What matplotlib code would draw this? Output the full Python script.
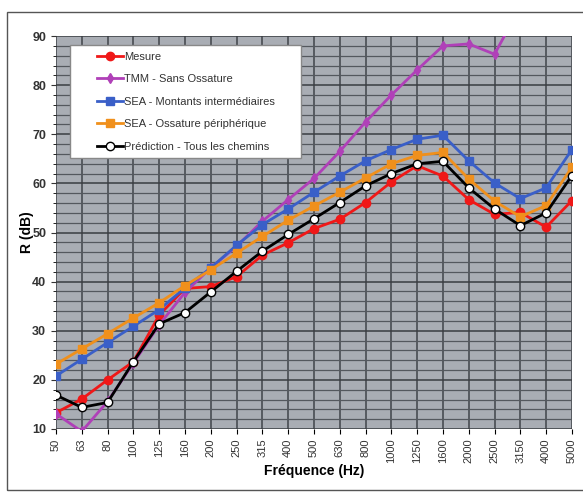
import numpy as np
import matplotlib
matplotlib.use("Agg")
import matplotlib.pyplot as plt
from matplotlib.patches import Rectangle
from matplotlib.lines import Line2D
from matplotlib.legend_handler import HandlerLine2D

plt.rcParams["font.family"] = ["Liberation Sans", "DejaVu Sans"]

# Données
freqs = ["50", "63", "80", "100", "125", "160", "200", "250", "315", "400", "500",
         "630", "800", "1000", "1250", "1600", "2000", "2500", "3150", "4000", "5000"]
mesure = [13.3, 16.1, 20.0, 23.7, 33.2, 38.6, 39.0, 41.0, 45.4, 47.9, 50.8,
          52.7, 56.1, 60.3, 63.6, 61.5, 56.7, 53.7, 54.1, 51.1, 56.5]
tmm = [13.1, 9.5, 15.6, 23.4, 31.2, 37.8, 42.8, 47.2, 52.3, 56.7, 61.0,
       66.5, 72.5, 78.0, 83.1, 88.0, 88.4, 86.3, 96.0, np.nan, np.nan]
sea_montants = [20.8, 24.2, 27.6, 30.9, 34.3, 38.7, 42.8, 47.4, 51.6, 54.8, 58.2,
                61.5, 64.6, 66.9, 69.0, 69.8, 64.6, 60.1, 56.9, 59.1, 66.9]
sea_ossature = [23.2, 26.3, 29.4, 32.6, 35.7, 39.2, 42.4, 45.8, 49.2, 52.5, 55.4,
                58.2, 61.1, 64.0, 65.7, 66.3, 60.9, 56.4, 53.2, 55.5, 63.3]
prediction = [16.9, 14.4, 15.4, 23.7, 31.4, 33.7, 37.9, 42.1, 46.2, 49.6, 52.8,
              56.1, 59.5, 62.0, 64.0, 64.5, 59.1, 54.8, 51.4, 54.0, 61.6]

x = np.arange(len(freqs))

fig = plt.figure(figsize=(5.83, 4.94), dpi=100)
ax = fig.add_axes([0.096, 0.1316, 0.885, 0.7954])
ax.set_facecolor("#a9adb4")

# cadre autour du graphique
fig.patches.append(Rectangle((7 / 583, 4 / 494), 1.0, 0.976 - 4 / 494,
                             transform=fig.transFigure, fill=False,
                             edgecolor="#555555", linewidth=1.0))

ax.plot(x, mesure, color="#f01818", marker="o", markersize=6, linewidth=2,
        label="Mesure", zorder=3)
ax.plot(x, tmm, color="#b040b8", marker="d", markersize=5, linewidth=2,
        label="TMM - Sans Ossature", zorder=3)
ax.plot(x, sea_montants, color="#3a5fc8", marker="s", markersize=6, linewidth=2,
        label="SEA - Montants intermédiaires", zorder=3)
ax.plot(x, sea_ossature, color="#f0901c", marker="s", markersize=6, linewidth=2,
        label="SEA - Ossature périphérique", zorder=3)
ax.plot(x, prediction, color="black", marker="o", markersize=6,
        markerfacecolor="white", markeredgecolor="black", linewidth=2,
        label="Prédiction - Tous les chemins", zorder=4)

ax.set_xlim(0, len(freqs) - 1)
ax.set_ylim(10, 90)
ax.set_xticks(x)
ax.set_xticklabels(freqs, rotation=90, fontsize=8, color="#333333")
ax.set_yticks(np.arange(10, 91, 10))
ax.set_yticks(np.arange(10, 91, 2), minor=True)
ax.tick_params(axis="y", labelsize=9, colors="#333333")
for lab in ax.get_yticklabels():
    lab.set_fontweight("bold")

ax.grid(True, which="major", axis="x", color="#40444a", linewidth=1.1)
ax.grid(True, which="major", axis="y", color="#3a3d42", linewidth=1.1)
ax.grid(True, which="minor", axis="y", color="#54585e", linewidth=0.9)
ax.set_axisbelow(True)
for s in ax.spines.values():
    s.set_visible(False)

ax.set_xlabel("Fréquence (Hz)", fontsize=10, fontweight="bold", labelpad=0.5)
ax.set_ylabel("R (dB)", fontsize=10, fontweight="bold", labelpad=-1)

leg = ax.legend(loc="upper left", bbox_to_anchor=(0.027, 0.0, 0.448, 0.977),
                mode="expand", borderaxespad=0, fontsize=8,
                frameon=True, fancybox=False, handlelength=4.15,
                labelspacing=1.12, borderpad=0.6, handletextpad=0.1,
                handler_map={Line2D: HandlerLine2D(xpad=1.8)})
leg.get_frame().set_facecolor("white")
leg.get_frame().set_edgecolor("#888888")
leg.get_frame().set_alpha(1)
for t in leg.get_texts():
    t.set_color("#333333")

fig.savefig("out.png", dpi=100)
